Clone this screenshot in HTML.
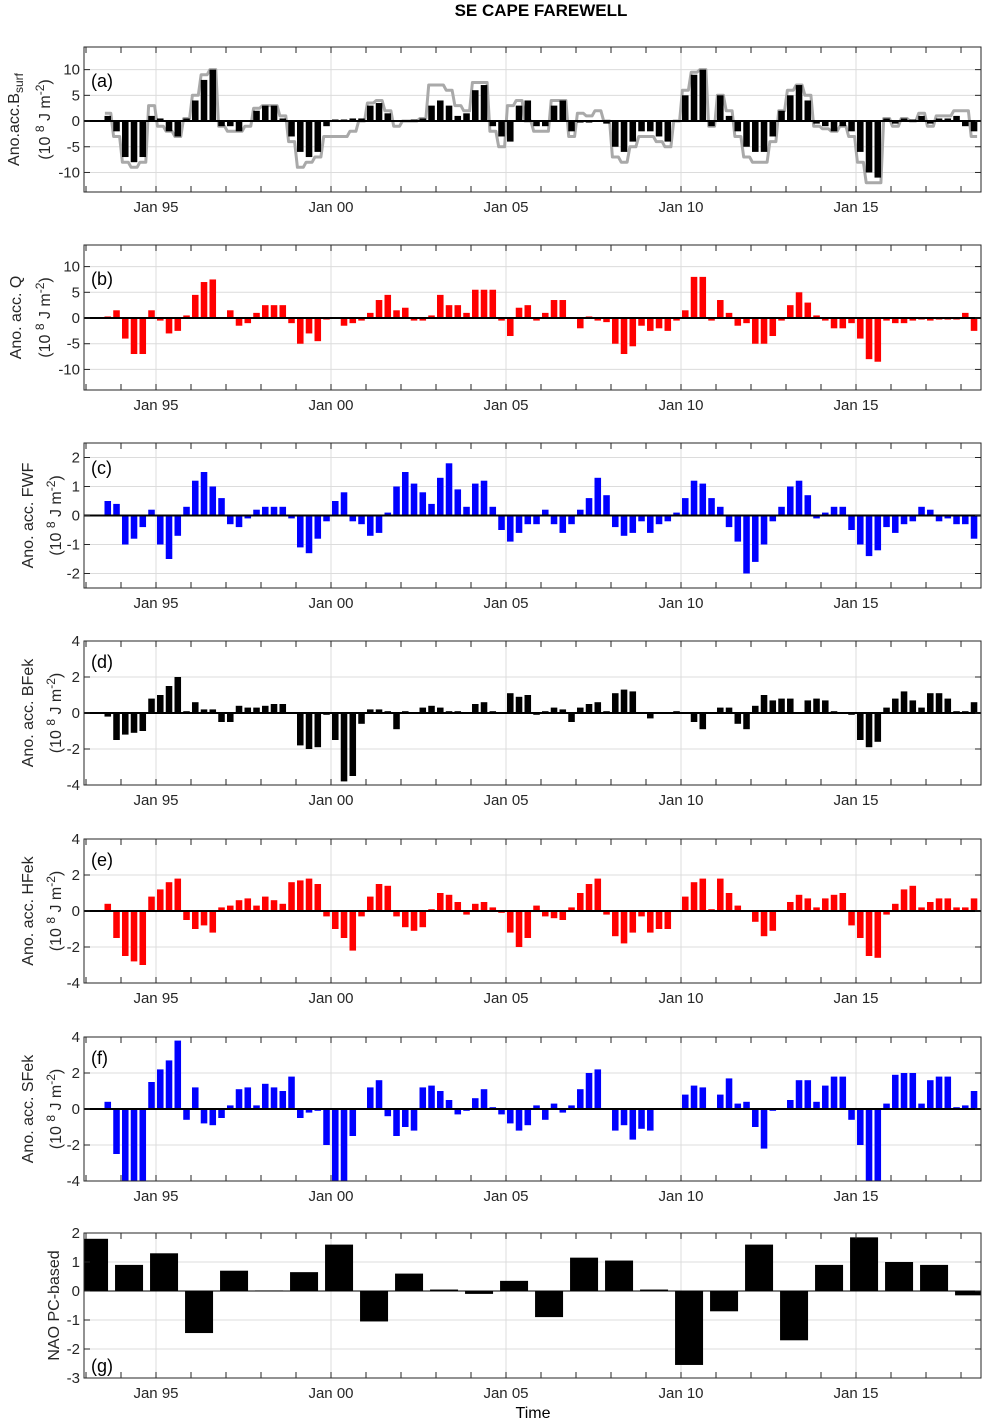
<!DOCTYPE html>
<html><head><meta charset="utf-8">
<style>
html,body{margin:0;padding:0;background:#fff;}
svg{display:block;font-family:"Liberation Sans",Arial,sans-serif;}
</style></head>
<body>
<svg id="fig" width="982" height="1420" viewBox="0 0 982 1420" xmlns="http://www.w3.org/2000/svg">
<text x="541" y="16" text-anchor="middle" font-size="17" font-weight="bold">SE CAPE FAREWELL</text>
<text x="533" y="1418" text-anchor="middle" font-size="16">Time</text>
</svg>
<script>
// ---- data (quarterly, starting 1993.5) ----
const startYear = 1993.5;
const xTickYears = [1995, 2000, 2005, 2010, 2015];
const xTickLabels = ["Jan 95", "Jan 00", "Jan 05", "Jan 10", "Jan 15"];
const bsurfBars = [1,-2, -7,-8,-7,1, 0.5,-2,-3,0.5, 4,8,10,-1, -1,-2,0,2, 3,3,0.5,-3, -6,-7,-6,-1, 0.3,0.3,0.5,0.5, 3,3.5,1.5,0, 0,0.3,0.5,3, 4,3,1,1.5, 6,7,-1,-3, -4,3,4,-1, -1,3,4,-2, -0.3,-0.3,0.2,-0.5, -5,-6,-4,-2, -2,-3,-4,0, 5,9,10,-1, 5,1,-2,-5, -6,-6,-3,2, 5,7,4,-0.5, -1,-2,-1,-2, -6,-10,-11,0.5, -0.5,0.5,0.3,1, -0.5,0.5,0.5,1, -1,-2];
const bsurfLine = [1.5,-3, -8,-9,-8,3, -1,-2,-3,0.5, 5,9,10,-1, -2,-2,-1,2.5, 3,3,1,-4, -9,-8,-7,-3, -3,-3,-2,0, 3.5,4,2,-1, 0,0,0.5,7, 7,6,3,2, 7.5,7.5,-2,-5, 3,4,0,-2, -2,4,4,-3, 1.5,1,2,0, -7,-8,-5,-3, -3,-4,-5,0, 6,9.5,10,-1, 5,2,-3,-7, -8,-8,-4,2, 6,7,5,-1, -1.5,-2,-1,-3, -8,-12,-12,0.5, -1,0.5,0,1.5, -1,1,1,2, 2,-3];
const qValues = [0.3,1.5, -4,-7,-7,1.5, -0.5,-3,-2.5,0.5, 4.5,7,7.5,0, 1.5,-1.5,-1,1, 2.5,2.5,2.5,-1, -5,-3,-4.5,-0.3, 0,-1.5,-1,-0.5, 1,3.5,4.5,1.5, 2,-0.5,-0.5,0.5, 4.5,2.5,2.5,1, 5.5,5.5,5.5,-0.5, -3.5,2,2.5,-0.5, 1,3.5,3.5,0, -2,0.3,-0.5,-0.8, -5,-7,-5.5,-1.5, -2.5,-2,-2.5,-0.5, 1.5,8,8,-0.5, 3.5,1,-1.5,-1, -5,-5,-3.5,-0.5, 2.5,5,3,0.5, -0.5,-2,-2,-1, -4,-8,-8.5,-0.5, -1,-1,-0.5,-0.3, -0.5,-0.3,-0.3,-0.3, 1,-2.5];
const fwfValues = [0.5,0.4, -1,-0.8,-0.4,0.2, -1,-1.5,-0.7,0.3, 1.2,1.5,1,0.6, -0.3,-0.4,-0.1,0.2, 0.3,0.3,0.3,-0.1, -1.1,-1.3,-0.8,-0.2, 0.5,0.8,-0.2,-0.3, -0.7,-0.6,0.1,1, 1.5,1.1,0.8,0.4, 1.3,1.8,0.9,0.3, 1.1,1.2,0.3,-0.5, -0.9,-0.6,-0.3,-0.3, 0.2,-0.3,-0.6,-0.3, 0.2,0.6,1.3,0.7, -0.4,-0.7,-0.6,-0.2, -0.6,-0.3,-0.2,0.1, 0.6,1.2,1.1,0.6, 0.3,-0.4,-0.9,-2, -1.6,-1,-0.2,0.3, 1,1.2,0.7,-0.1, 0.1,0.3,0.3,-0.5, -1,-1.4,-1.2,-0.4, -0.6,-0.3,-0.2,0.3, 0.2,-0.2,-0.1,-0.3, -0.3,-0.8];
const bfekValues = [-0.2,-1.5, -1.2,-1.1,-1,0.8, 1,1.5,2,0.1, 0.6,0.2,0.2,-0.5, -0.5,0.4,0.3,0.3, 0.4,0.5,0.5,0, -1.8,-2,-1.9,-0.1, -1.5,-3.8,-3.5,-0.6, 0.2,0.2,0.1,-0.9, 0.1,0.05,0.3,0.4, 0.3,0.1,0.1,0.05, 0.5,0.6,0.1,0.05, 1.1,0.9,1,-0.1, 0.1,0.3,0.2,-0.5, 0.3,0.5,0.6,0.1, 1.1,1.3,1.2,0.05, -0.3,0.05,0.05,0.1, 0.05,-0.5,-0.9,0.05, 0.3,0.3,-0.6,-0.9, 0.4,1,0.7,0.8, 0.8,0.05,0.7,0.8, 0.7,0.1,-0.05,-0.1, -1.5,-1.9,-1.6,0.3, 0.8,1.2,0.7,0.3, 1.1,1.1,0.8,0.1, 0.1,0.6];
const hfekValues = [0.4,-1.5, -2.5,-2.8,-3,0.8, 1.2,1.6,1.8,-0.5, -1,-0.8,-1.2,0.2, 0.3,0.6,0.7,0.3, 0.8,0.6,0.4,1.6, 1.7,1.8,1.5,-0.3, -1,-1.5,-2.2,-0.3, 0.8,1.5,1.4,-0.3, -0.9,-1.1,-0.9,0.1, 1,0.9,0.5,-0.2, 0.4,0.5,0.2,-0.1, -1.2,-2,-1.5,0.3, -0.3,-0.4,-0.5,0.2, 1,1.5,1.8,-0.2, -1.4,-1.8,-1.2,-0.3, -1.2,-1,-1,0.05, 0.8,1.6,1.8,0.1, 1.8,1,0.3,0.05, -0.6,-1.4,-1.1,0.05, 0.5,0.9,0.7,0.2, 0.7,0.9,1,-0.8, -1.5,-2.5,-2.6,-0.2, 0.4,1.2,1.4,0.2, 0.5,0.7,0.7,0.2, 0.2,0.7];
const sfekValues = [0.4,-2.5, -4,-4,-4,1.5, 2.2,2.7,3.8,-0.6, 1.2,-0.8,-0.9,-0.5, 0.2,1.1,1.2,0.2, 1.4,1.2,1,1.8, -0.5,-0.2,-0.1,-2, -4,-4,-1.5,0.05, 1.2,1.6,-0.4,-1.5, -1,-1.2,1.2,1.3, 1,0.5,-0.3,-0.1, 0.6,1.1,0.1,-0.3, -0.8,-1.2,-0.9,0.2, -0.6,0.3,-0.2,0.2, 1.1,2,2.2,0.05, -1.2,-0.9,-1.7,-1.1, -1.2,0.05,0.05,0.05, 0.8,1.3,1.2,0.05, 0.8,1.7,0.3,0.4, -1,-2.2,-0.1,0.05, 0.5,1.6,1.6,0.4, 1.3,1.8,1.8,-0.6, -2,-4,-4,0.3, 1.9,2,2,0.3, 1.6,1.8,1.8,0.1, 0.2,1];
const naoYears = [1993,1994,1995,1996,1997,1998,1999,2000,2001,2002,2003,2004,2005,2006,2007,2008,2009,2010,2011,2012,2013,2014,2015,2016,2017,2018];
const naoValues = [1.8,0.9,1.3,-1.45,0.7,0.02,0.65,1.6,-1.05,0.6,0.05,-0.1,0.35,-0.9,1.15,1.05,0.05,-2.55,-0.7,1.6,-1.7,0.9,1.85,1.0,0.9,-0.15];

// ---- layout ----
const NS = "http://www.w3.org/2000/svg";
const svg = document.getElementById("fig");
const X0 = 84, X1 = 981, T0 = 1992.943, T1 = 2018.571;
function X(t){ return X0 + (t - T0) / (T1 - T0) * (X1 - X0); }
function mk(tag, attrs, parent){
  const e = document.createElementNS(NS, tag);
  for (const k in attrs) e.setAttribute(k, attrs[k]);
  (parent || svg).appendChild(e);
  return e;
}
let clipN = 0;
function panel(cfg){
  const top = cfg.top, bot = cfg.bottom;
  const Y = v => bot - (v - cfg.ymin) / (cfg.ymax - cfg.ymin) * (bot - top);
  const g = mk("g", {});
  
  
  const id = "clip" + (clipN++);
  const cp = mk("clipPath", {id: id}, g);
  mk("rect", {x: X0, y: top, width: X1 - X0, height: bot - top}, cp);
  xTickYears.forEach(yr => {
    const l = mk("line", {x1: X(yr), x2: X(yr), y1: top, y2: bot, stroke: "#dcdcdc", "stroke-width": 1}, g);
    
    
  });
  cfg.yticks.forEach(v => {
    const l = mk("line", {x1: X0, x2: X1, y1: Y(v), y2: Y(v), stroke: "#dcdcdc", "stroke-width": 1}, g);
    
    
  });
  const plot = mk("g", {"clip-path": "url(#" + id + ")"}, g);
  
  
  if (cfg.line){
    let d = "";
    cfg.line.forEach((v, i) => {
      const t = startYear + i * 0.25;
      d += (i === 0 ? "M" : "L") + X(t + 0.04).toFixed(1) + "," + Y(v).toFixed(1) + "L" + X(t + 0.21).toFixed(1) + "," + Y(v).toFixed(1);
    });
    const p = mk("path", {d: d, fill: "none", stroke: "#a9a9a9", "stroke-width": 3, "stroke-linejoin": "round"}, plot);
    
    
  }
  if (cfg.values){
    cfg.values.forEach((v, i) => {
      const t = startYear + i * 0.25;
      const x0 = X(t), x1 = X(t + 0.25);
      const y0 = Y(0), y1 = Y(v);
      const r = mk("rect", {x: x0 + 1, y: Math.min(y0, y1), width: (x1 - x0) - 2.2, height: Math.abs(y1 - y0), fill: cfg.color}, plot);
      
      
    });
  }
  if (cfg.nao){
    naoYears.forEach((yr, i) => {
      const x0 = X(yr - 0.17), x1 = X(yr + 0.63);
      const y0 = Y(0), y1 = Y(naoValues[i]);
      const r = mk("rect", {x: x0, y: Math.min(y0, y1), width: x1 - x0, height: Math.max(1, Math.abs(y1 - y0)), fill: "#000"}, plot);
      
      
    });
  }
  const z = mk("line", {x1: X0, x2: X1, y1: Y(0), y2: Y(0), stroke: "#000", "stroke-width": cfg.nao ? 1 : 2}, g);
  
  
  const fr = mk("rect", {x: X0, y: top, width: X1 - X0, height: bot - top, fill: "none", stroke: "#262626", "stroke-width": 1}, g);
  
  
  for (let yr = 1993; yr <= 2018; yr++){
    const x = X(yr);
    mk("line", {x1: x, x2: x, y1: bot, y2: bot - 6, stroke: "#262626"}, g);
    mk("line", {x1: x, x2: x, y1: top, y2: top + 6, stroke: "#262626"}, g);
  }
  xTickYears.forEach((yr, i) => {
    const t = mk("text", {x: X(yr), y: bot + 20, "text-anchor": "middle", "font-size": 15, fill: "#262626"}, g);
    t.textContent = xTickLabels[i];
    
    
  });
  cfg.yticks.forEach((v, i) => {
    mk("line", {x1: X0, x2: X0 + 6, y1: Y(v), y2: Y(v), stroke: "#262626"}, g);
    mk("line", {x1: X1, x2: X1 - 6, y1: Y(v), y2: Y(v), stroke: "#262626"}, g);
    const t = mk("text", {x: X0 - 4, y: Y(v) + 5, "text-anchor": "end", "font-size": 15, fill: "#262626"}, g);
    t.textContent = cfg.yticklabels[i];
    
    
  });
  const pl = mk("text", {x: 91, y: cfg.letterY, "font-size": 18, fill: "#000"}, g);
  pl.textContent = cfg.letter;
  
  
  const cy = (top + bot) / 2;
  const yl = mk("g", {transform: "translate(0," + cy + ") rotate(-90)"}, g);
  
  
  yl.innerHTML = cfg.ylabel;
}

const unit2 = (x) => '<text x="0" y="' + x + '" text-anchor="middle" font-size="16" fill="#262626">(10 <tspan dy="-6" font-size="12">8</tspan><tspan dy="6"> J m</tspan><tspan dy="-6" font-size="12">-2</tspan><tspan dy="6">)</tspan></text>';

panel({name: "panel-a-bsurf", top: 47, bottom: 192, ymin: -13.8, ymax: 14.4, yticks: [10,5,0,-5,-10], yticklabels: ["10","5","0","-5","-10"], values: bsurfBars, line: bsurfLine, color: "#000", letter: "(a)", letterY: 87,
  ylabel: '<text x="0" y="19" text-anchor="middle" font-size="16" fill="#262626">Ano.acc.B<tspan dy="4" font-size="12">surf</tspan></text>' + unit2(50)});
panel({name: "panel-b-q", top: 245, bottom: 390, ymin: -14, ymax: 14.2, yticks: [10,5,0,-5,-10], yticklabels: ["10","5","0","-5","-10"], values: qValues, color: "#ff0000", letter: "(b)", letterY: 285,
  ylabel: '<text x="0" y="21" text-anchor="middle" font-size="16" fill="#262626">Ano. acc. Q</text>' + unit2(50)});
panel({name: "panel-c-fwf", top: 443, bottom: 588, ymin: -2.5, ymax: 2.5, yticks: [2,1,0,-1,-2], yticklabels: ["2","1","0","-1","-2"], values: fwfValues, color: "#0000ff", letter: "(c)", letterY: 474,
  ylabel: '<text x="0" y="33" text-anchor="middle" font-size="16" fill="#262626">Ano. acc. FWF</text>' + unit2(61)});
panel({name: "panel-d-bfek", top: 641, bottom: 785, ymin: -4, ymax: 4, yticks: [4,2,0,-2,-4], yticklabels: ["4","2","0","-2","-4"], values: bfekValues, color: "#000", letter: "(d)", letterY: 668,
  ylabel: '<text x="0" y="33" text-anchor="middle" font-size="16" fill="#262626">Ano. acc. BFek</text>' + unit2(61)});
panel({name: "panel-e-hfek", top: 839, bottom: 983, ymin: -4, ymax: 4, yticks: [4,2,0,-2,-4], yticklabels: ["4","2","0","-2","-4"], values: hfekValues, color: "#ff0000", letter: "(e)", letterY: 866,
  ylabel: '<text x="0" y="33" text-anchor="middle" font-size="16" fill="#262626">Ano. acc. HFek</text>' + unit2(61)});
panel({name: "panel-f-sfek", top: 1037, bottom: 1181, ymin: -4, ymax: 4, yticks: [4,2,0,-2,-4], yticklabels: ["4","2","0","-2","-4"], values: sfekValues, color: "#0000ff", letter: "(f)", letterY: 1064,
  ylabel: '<text x="0" y="33" text-anchor="middle" font-size="16" fill="#262626">Ano. acc. SFek</text>' + unit2(61)});
panel({name: "panel-g-nao", top: 1233, bottom: 1378, ymin: -3, ymax: 2, yticks: [2,1,0,-1,-2,-3], yticklabels: ["2","1","0","-1","-2","-3"], nao: true, letter: "(g)", letterY: 1372,
  ylabel: '<text x="0" y="59" text-anchor="middle" font-size="16" fill="#262626">NAO PC-based</text>'});
</script>
</body></html>
